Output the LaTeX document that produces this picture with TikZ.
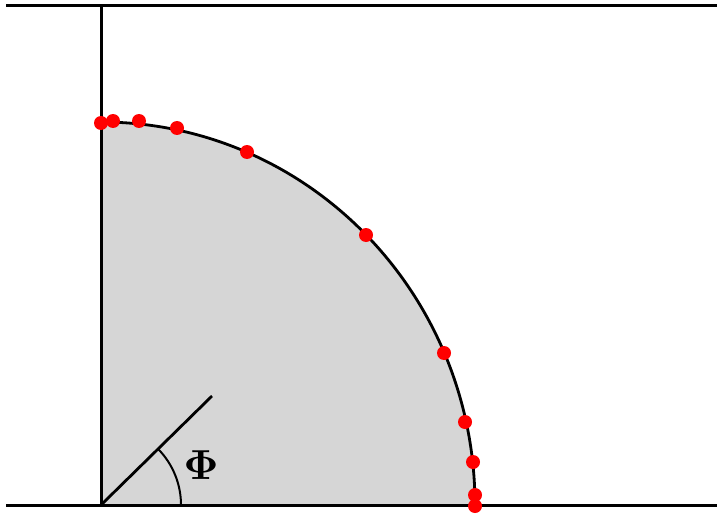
\documentclass[tikz,border=0pt]{standalone}
\begin{document}
\begin{tikzpicture}[x=1pt,y=-1pt,
  frame/.style={line width=3pt,black},
  bound/.style={line width=2.8pt,black},
  pt/.style={circle,fill=red,inner sep=0pt,minimum size=14pt}]
\definecolor{greyfill}{RGB}{214,214,214}
\useasboundingbox (0,0) rectangle (717,516);
\coordinate (O) at (101,505);
\coordinate (E) at (475,505);
\coordinate (T) at (101,6);
\coordinate (TL) at (6,6);
\coordinate (TR) at (717,6);
\coordinate (BL) at (6,505);
\coordinate (BR) at (717,505);
\coordinate (R) at (212,396);
\coordinate (A0) at (181,505);
% filled quarter ellipse
\fill[fill=greyfill] (O) -- (E) arc[start angle=0,end angle=90,x radius=374pt,y radius=383pt] -- cycle;
% frame lines
\draw[frame] (TL) -- (TR);
\draw[frame] (BL) -- (BR);
\draw[frame] (T) -- (O);
% boundary
\draw[bound] (E) arc[start angle=0,end angle=90,x radius=374pt,y radius=383pt];
% angle
\draw[line width=2.8pt] (O) -- (R);
\draw[line width=2pt] (A0) arc[start angle=0,end angle=44.5,radius=80pt];
\node[scale=4.2] (phi) at (201,465) {$\mathbf{\Phi}$};
% dots
\foreach \i/\p in {1/{(101,123)},2/{(113,121)},3/{(139,121)},4/{(177,128)},5/{(247,152)},6/{(366,235)},7/{(444,353)},8/{(465,422)},9/{(473,462)},10/{(475,495)},11/{(475,506)}}
  \node[pt] (d\i) at \p {};
\end{tikzpicture}
\end{document}
